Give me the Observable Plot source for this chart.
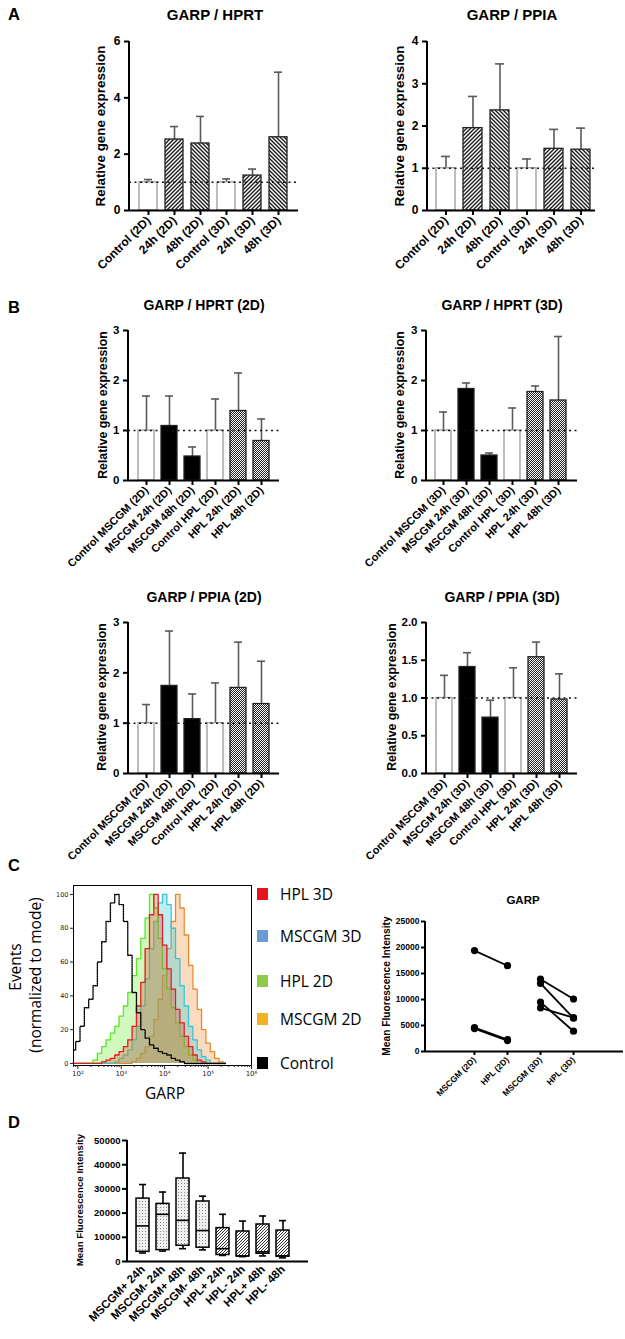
<!DOCTYPE html>
<html><head><meta charset="utf-8">
<script src="https://cdn.jsdelivr.net/npm/d3@7"></script>
<script src="https://cdn.jsdelivr.net/npm/@observablehq/plot@0.6"></script>
<style>
body{margin:0;background:#fff;}
#root{position:relative;width:625px;height:1339px;overflow:hidden;background:#fff;}
.plot{position:absolute;}
.plot svg{overflow:visible;max-width:none;}
</style></head>
<body>
<svg width="0" height="0" style="position:absolute">
<defs>
<pattern id="hatchR" patternUnits="userSpaceOnUse" width="4" height="4">
<rect width="4" height="4" fill="#fff"/>
<path d="M-1,1 l2,-2 M0,4 l4,-4 M3,5 l2,-2" stroke="#1a1a1a" stroke-width="1.4"/>
</pattern>
<pattern id="hatchL" patternUnits="userSpaceOnUse" width="4" height="4">
<rect width="4" height="4" fill="#fff"/>
<path d="M-1,3 l2,2 M0,0 l4,4 M3,-1 l2,2" stroke="#1a1a1a" stroke-width="1.4"/>
</pattern>
<pattern id="checker" patternUnits="userSpaceOnUse" width="2" height="2">
<rect width="2" height="2" fill="#fff"/>
<rect x="0" y="0" width="1" height="1" fill="#222"/>
<rect x="1" y="1" width="1" height="1" fill="#222"/>
</pattern>
<pattern id="dots" patternUnits="userSpaceOnUse" width="3" height="3">
<rect width="3" height="3" fill="#f0f0f0"/>
<rect x="1" y="1" width="1" height="1" fill="#8a8a8a"/>
</pattern>
<pattern id="hatchD" patternUnits="userSpaceOnUse" width="3" height="3">
<rect width="3" height="3" fill="#fff"/>
<path d="M-1,1 l2,-2 M0,3 l3,-3 M2,4 l2,-2" stroke="#333" stroke-width="1"/>
</pattern>
</defs>
</svg>
<div id="root"></div>
<script>
// ---------- DATA ----------
const catsA = ["Control (2D)", "24h (2D)", "48h (2D)", "Control (3D)", "24h (3D)", "48h (3D)"];
const hprtA = [1.0, 2.52, 2.38, 1.0, 1.24, 2.6];
const hprtAErr = [1.1, 2.98, 3.34, 1.12, 1.47, 4.91];
const ppiaA = [1.0, 1.95, 2.37, 1.0, 1.46, 1.44];
const ppiaAErr = [1.28, 2.7, 3.47, 1.22, 1.92, 1.95];

const catsB2D = ["Control MSCGM (2D)", "MSCGM 24h (2D)", "MSCGM 48h (2D)", "Control HPL (2D)", "HPL 24h (2D)", "HPL 48h (2D)"];
const catsB3D = ["Control MSCGM (3D)", "MSCGM 24h (3D)", "MSCGM 48h (3D)", "Control HPL (3D)", "HPL 24h (3D)", "HPL 48h (3D)"];
const hprt2D = [1.0, 1.09, 0.48, 1.0, 1.39, 0.79];
const hprt2DErr = [1.69, 1.69, 0.67, 1.63, 2.15, 1.23];
const hprt3D = [1.0, 1.83, 0.5, 1.0, 1.77, 1.6];
const hprt3DErr = [1.37, 1.95, 0.55, 1.45, 1.89, 2.88];
const ppia2D = [1.0, 1.74, 1.08, 1.0, 1.7, 1.38];
const ppia2DErr = [1.37, 2.83, 1.58, 1.8, 2.61, 2.23];
const ppia3D = [1.0, 1.41, 0.74, 1.0, 1.54, 0.98];
const ppia3DErr = [1.3, 1.6, 0.97, 1.4, 1.74, 1.32];

// flow cytometry histogram (x = log10 GARP, y = % of mode)
const binLog = [1.9,2.0,2.1,2.2,2.3,2.4,2.5,2.6,2.7,2.8,2.9,3.0,3.1,3.2,3.3,3.4,3.5,3.6,3.7,3.8,3.9,4.0,4.1,4.2,4.3,4.4,4.5,4.6,4.7,4.8,4.9,5.0,5.1,5.2,5.3,5.4];
const histControl = [8,13,22,33,38,46,60,72,84,95,100,94,84,64,42,30,20,15,11,9,7,6,5,3,2,1,0,0,0,0,0,0,0,0,0,0];
const histHPL2D   = [0,0,0,0,0,2,6,10,14,18,22,28,34,42,52,62,74,86,100,92,74,56,44,33,24,16,10,5,2,0,0,0,0,0,0,0];
const histHPL3D   = [0,0,0,0,0,0,0,1,2,3,5,7,10,14,22,34,48,68,88,100,88,70,56,44,32,24,16,10,5,2,1,0,0,0,0,0];
const histMSCGM3D = [0,0,0,0,0,0,0,0,0,0,1,3,5,8,14,22,34,50,68,84,95,100,94,80,62,46,34,22,14,8,4,2,0,0,0,0];
const histMSCGM2D = [0,0,0,0,0,0,0,0,0,0,0,0,0,0,1,3,6,10,16,26,38,52,68,84,100,92,76,58,44,32,20,12,7,3,1,0];
const legendNames = ["HPL 3D", "MSCGM 3D", "HPL 2D", "MSCGM 2D", "Control"];

const catsC = ["MSCGM (2D)", "HPL (2D)", "MSCGM (3D)", "HPL (3D)"];
const mfiMSCGM2D = [19400, 4600, 4400];
const mfiHPL2D = [16500, 2300, 2100];
const mfiMSCGM3D = [13900, 13100, 9500, 8400];
const mfiHPL3D = [10100, 6400, 3900, 6500];

const catsD = ["MSCGM+ 24h", "MSCGM- 24h", "MSCGM+ 48h", "MSCGM- 48h", "HPL+ 24h", "HPL- 24h", "HPL+ 48h", "HPL- 48h"];
const dMin = [3500, 4300, 5300, 4800, 2500, 2000, 2300, 1500];
const dQ1  = [4000, 4700, 6500, 5700, 2700, 2100, 3200, 2000];
const dMed = [14700, 19500, 17000, 12800, 5300, 2300, 4000, 2300];
const dQ3  = [26000, 23800, 34300, 24800, 13800, 12400, 15300, 12800];
const dMax = [31800, 28700, 44800, 27000, 19500, 16700, 18800, 16900];

// ---------- HELPERS ----------
const FONT = "'Liberation Sans', Arial, Helvetica, sans-serif";
const root = document.getElementById("root");
const plain = d => String(d);
function place(svg, left, top, w, h) {
  const d = document.createElement("div");
  d.className = "plot";
  d.style.left = left + "px"; d.style.top = top + "px";
  d.style.width = w + "px"; d.style.height = h + "px";
  d.appendChild(svg); root.appendChild(d);
}
function yLine(svg, ml, mt, H, mb) {
  d3.select(svg).append("line").attr("x1", ml).attr("x2", ml).attr("y1", mt).attr("y2", H - mb)
    .attr("stroke", "#000").attr("stroke-width", 2);
}
function fillA(c) { return c.startsWith("Control") ? "#fff" : c.startsWith("24h") ? "url(#hatchR)" : "url(#hatchL)"; }
function fillB(c) { return c.startsWith("Control") ? "#fff" : c.startsWith("MSCGM") ? "#000" : "url(#checker)"; }
function strokeAB(c) { return c.startsWith("Control") ? "#9a9a9a" : "#222"; }

function barChart(o) {
  const rows = o.cats.map((c, i) => ({c, v: o.vals[i], e: o.errs[i], f: o.fill(c), s: strokeAB(c)}));
  const n = o.cats.length, step = (o.c1 - o.c0) / (n - 1);
  const W = o.w, H = o.h;
  const ml = o.fx0 - o.left, mr = o.left + W - o.fx1, mt = o.fy0 - o.top, mb = o.top + H - o.fy1;
  const svg = Plot.plot({
    width: W, height: H, marginLeft: ml, marginRight: mr, marginTop: mt, marginBottom: mb,
    style: {fontFamily: FONT, fontWeight: "bold", fontSize: o.xfs + "px", overflow: "visible", background: "transparent", color: "#000"},
    x: {type: "band", domain: o.cats, range: [o.c0 - 0.35 * step - o.left, o.c1 + 0.35 * step - o.left], paddingInner: 0.3, paddingOuter: 0, align: 0.5, axis: null},
    y: {domain: o.yDomain, axis: null},
    color: {type: "identity"},
    marks: [
      Plot.ruleX(rows, {x: "c", y1: "v", y2: "e", stroke: "#5a5a5a", strokeWidth: 1.6}),
      Plot.tickY(rows, {x: "c", y: "e", stroke: "#5a5a5a", strokeWidth: 1.6, insetLeft: o.cap, insetRight: o.cap}),
      Plot.barY(rows, {x: "c", y: "v", fill: "f", stroke: "s", strokeWidth: 1.3}),
      Plot.ruleY([1], {stroke: "#111", strokeWidth: 1.5, strokeDasharray: "2,3.5"}),
      Plot.ruleY([0], {stroke: "#000", strokeWidth: 2}),
      Plot.axisY({ticks: o.yTicks, tickFormat: o.yFmt || plain, tickSize: 5, strokeWidth: 2, fontSize: o.yfs, label: null}),
      Plot.axisX({tickRotate: -45, tickSize: 5, strokeWidth: 2, fontSize: o.xfs, label: null, tickPadding: 3})
    ]
  });
  yLine(svg, ml, mt, H, mb);
  place(svg, o.left, o.top, W, H);
}

// ---------- PANEL A ----------
barChart({cats: catsA, vals: hprtA, errs: hprtAErr, fill: fillA, left: 0, top: 25, w: 310, h: 245,
  fx0: 129, fx1: 298, fy0: 41, fy1: 210, c0: 146, c1: 280, yDomain: [0, 6], yTicks: [0, 2, 4, 6], xfs: 12, yfs: 12, cap: 5});
barChart({cats: catsA, vals: ppiaA, errs: ppiaAErr, fill: fillA, left: 310, top: 25, w: 315, h: 245,
  fx0: 427, fx1: 595, fy0: 41, fy1: 210, c0: 443, c1: 583, yDomain: [0, 4], yTicks: [0, 1, 2, 3, 4], xfs: 12, yfs: 12, cap: 5});

// ---------- PANEL B ----------
barChart({cats: catsB2D, vals: hprt2D, errs: hprt2DErr, fill: fillB, left: 0, top: 315, w: 310, h: 225,
  fx0: 128, fx1: 279, fy0: 330, fy1: 480, c0: 144, c1: 263, yDomain: [0, 3], yTicks: [0, 1, 2, 3], xfs: 11, yfs: 11.5, cap: 4});
barChart({cats: catsB3D, vals: hprt3D, errs: hprt3DErr, fill: fillB, left: 310, top: 315, w: 315, h: 225,
  fx0: 426, fx1: 577, fy0: 330, fy1: 480, c0: 442, c1: 560, yDomain: [0, 3], yTicks: [0, 1, 2, 3], xfs: 11, yfs: 11.5, cap: 4});
barChart({cats: catsB2D, vals: ppia2D, errs: ppia2DErr, fill: fillB, left: 0, top: 607, w: 310, h: 240,
  fx0: 128, fx1: 279, fy0: 622, fy1: 773, c0: 144, c1: 263, yDomain: [0, 3], yTicks: [0, 1, 2, 3], xfs: 11, yfs: 11.5, cap: 4});
barChart({cats: catsB3D, vals: ppia3D, errs: ppia3DErr, fill: fillB, left: 310, top: 607, w: 315, h: 240,
  fx0: 426, fx1: 577, fy0: 622, fy1: 773, c0: 442, c1: 561, yDomain: [0, 2], yTicks: [0, 0.5, 1, 1.5, 2], yFmt: d3.format(".1f"), xfs: 11, yfs: 11.5, cap: 4});

// ---------- PANEL C: histogram ----------
(function () {
  const rows = (arr) => binLog.map((x, i) => ({x, y: arr[i]}));
  const sup = {2: "²", 3: "³", 4: "⁴", 5: "⁵", 6: "⁶"};
  const minor = [];
  for (let n = 1; n < 6; n++) for (let k = 2; k < 10; k++) { const v = n + Math.log10(k); if (v > 1.9 && v < 6.0) minor.push(v); }
  const series = [
    {d: histMSCGM2D, fill: "#f5b070", op: 0.45, stroke: "#e58a2c"},
    {d: histMSCGM3D, fill: "#4fd0de", op: 0.38, stroke: "#35c6d6"},
    {d: histHPL2D, fill: "#86ee52", op: 0.38, stroke: "#5fe52e"},
    {d: histHPL3D, fill: "#e83030", op: 0.28, stroke: "#e41e24"}
  ];
  const marks = [];
  for (const s of series) {
    marks.push(Plot.areaY(rows(s.d), {x: "x", y: "y", curve: "step", fill: s.fill, fillOpacity: s.op}));
    marks.push(Plot.lineY(rows(s.d), {x: "x", y: "y", curve: "step", stroke: s.stroke, strokeWidth: 1.3}));
  }
  marks.push(Plot.lineY(rows(histControl), {x: "x", y: "y", curve: "step", stroke: "#000", strokeWidth: 1.4, strokeDasharray: "1,1.2"}));
  marks.push(Plot.frame({stroke: "#000", strokeWidth: 1}));
  marks.push(Plot.axisX({ticks: [2, 3, 4, 5, 6], tickFormat: d => "10" + sup[d], tickSize: 4, fontSize: 7, label: null, tickPadding: 2}));
  marks.push(Plot.axisX({ticks: minor, tickFormat: () => "", tickSize: 2, label: null}));
  marks.push(Plot.axisY({ticks: [0, 20, 40, 60, 80, 100], tickFormat: plain, tickSize: 3, fontSize: 6.5, label: null, tickPadding: 2}));
  const svg = Plot.plot({
    width: 260, height: 200, marginLeft: 73, marginRight: 9, marginTop: 5, marginBottom: 15,
    style: {fontFamily: "'DejaVu Sans', sans-serif", overflow: "visible", background: "transparent", color: "#222"},
    x: {domain: [1.9, 6.0], axis: null},
    y: {domain: [-1.2, 105.3], axis: null},
    marks
  });
  place(svg, 0, 880, 260, 200);
})();

// ---------- PANEL C: paired MFI ----------
(function () {
  const links = [];
  mfiMSCGM2D.forEach((v, i) => links.push({a: catsC[0], b: catsC[1], y1: v, y2: mfiHPL2D[i]}));
  mfiMSCGM3D.forEach((v, i) => links.push({a: catsC[2], b: catsC[3], y1: v, y2: mfiHPL3D[i]}));
  const pts = links.flatMap(l => [{x: l.a, y: l.y1}, {x: l.b, y: l.y2}]);
  const left = 360, top = 905, W = 265, H = 185;
  const ml = 425 - left, mr = left + W - 623, mt = 921 - top, mb = top + H - 1051;
  const svg = Plot.plot({
    width: W, height: H, marginLeft: ml, marginRight: mr, marginTop: mt, marginBottom: mb,
    style: {fontFamily: FONT, fontWeight: "bold", fontSize: "8.5px", overflow: "visible", background: "transparent", color: "#000"},
    x: {type: "point", domain: catsC, range: [456 - left, 591 - left], axis: null},
    y: {domain: [0, 25000], axis: null},
    marks: [
      Plot.ruleY([0], {stroke: "#000", strokeWidth: 2}),
      Plot.link(links, {x1: "a", x2: "b", y1: "y1", y2: "y2", stroke: "#000", strokeWidth: 1.8}),
      Plot.dot(pts, {x: "x", y: "y", r: 3.6, fill: "#000"}),
      Plot.axisY({ticks: [0, 5000, 10000, 15000, 20000, 25000], tickFormat: plain, tickSize: 4, strokeWidth: 2, fontSize: 8.5, label: null, tickPadding: 2}),
      Plot.axisX({tickRotate: -45, tickSize: 4, strokeWidth: 2, fontSize: 8.5, label: null, tickPadding: 3})
    ]
  });
  yLine(svg, ml, mt, H, mb);
  place(svg, left, top, W, H);
})();

// ---------- PANEL D ----------
(function () {
  const rows = catsD.map((c, i) => ({c, mn: dMin[i], q1: dQ1[i], md: dMed[i], q3: dQ3[i], mx: dMax[i],
    f: c.startsWith("HPL") ? "url(#hatchD)" : "url(#dots)"}));
  const left = 0, top = 1125, W = 330, H = 214;
  const ml = 127, mr = W - 308, mt = 1140 - top, mb = top + H - 1261;
  const step = 20;
  const svg = Plot.plot({
    width: W, height: H, marginLeft: ml, marginRight: mr, marginTop: mt, marginBottom: mb,
    style: {fontFamily: FONT, fontWeight: "bold", fontSize: "11px", overflow: "visible", background: "transparent", color: "#000"},
    x: {type: "band", domain: catsD, range: [142 - 0.325 * step, 282 + 0.325 * step], paddingInner: 0.35, paddingOuter: 0, axis: null},
    y: {domain: [0, 50000], axis: null},
    color: {type: "identity"},
    marks: [
      Plot.ruleX(rows, {x: "c", y1: "q3", y2: "mx", stroke: "#000", strokeWidth: 1.6}),
      Plot.ruleX(rows, {x: "c", y1: "mn", y2: "q1", stroke: "#000", strokeWidth: 1.6}),
      Plot.tickY(rows, {x: "c", y: "mx", stroke: "#000", strokeWidth: 1.6, insetLeft: 3, insetRight: 3}),
      Plot.tickY(rows, {x: "c", y: "mn", stroke: "#000", strokeWidth: 1.6, insetLeft: 3, insetRight: 3}),
      Plot.barY(rows, {x: "c", y1: "q1", y2: "q3", fill: "f", stroke: "#000", strokeWidth: 1.5}),
      Plot.tickY(rows, {x: "c", y: "md", stroke: "#000", strokeWidth: 1.6}),
      Plot.ruleY([0], {stroke: "#000", strokeWidth: 2}),
      Plot.axisY({ticks: [0, 10000, 20000, 30000, 40000, 50000], tickFormat: plain, tickSize: 5, strokeWidth: 2, fontSize: 9.5, label: null, tickPadding: 2}),
      Plot.axisX({tickRotate: -45, tickSize: 0, fontSize: 11.5, label: null, tickPadding: 6})
    ]
  });
  yLine(svg, ml, mt, H, mb);
  place(svg, left, top, W, H);
})();

// ---------- TEXT OVERLAY ----------
const ov = d3.select(root).append("svg").attr("width", 625).attr("height", 1339)
  .style("position", "absolute").style("left", "0px").style("top", "0px").style("pointer-events", "none");
function txt(x, y, s, size, weight, anchor, rot, fam) {
  const t = ov.append("text").attr("x", x).attr("y", y).text(s)
    .attr("font-family", fam || FONT).attr("font-size", size).attr("font-weight", weight)
    .attr("text-anchor", anchor || "start").attr("fill", "#000");
  if (rot) t.attr("transform", `rotate(${rot},${x},${y})`);
  return t;
}
// panel letters
txt(8, 20, "A", 16.5, "bold");
txt(8, 313, "B", 16.5, "bold");
txt(8, 871, "C", 16.5, "bold");
txt(8, 1128, "D", 16.5, "bold");
// titles
txt(215, 20, "GARP / HPRT", 15, "bold", "middle");
txt(512, 20, "GARP / PPIA", 15, "bold", "middle");
txt(204, 310, "GARP / HPRT (2D)", 14, "bold", "middle");
txt(502, 310, "GARP / HPRT (3D)", 14, "bold", "middle");
txt(204, 602, "GARP / PPIA (2D)", 14, "bold", "middle");
txt(502, 602, "GARP / PPIA (3D)", 14, "bold", "middle");
txt(523, 904, "GARP", 11.5, "bold", "middle");
// y labels
txt(105, 126, "Relative gene expression", 13.4, "bold", "middle", -90);
txt(404, 126, "Relative gene expression", 13.4, "bold", "middle", -90);
txt(107, 405, "Relative gene expression", 12.3, "bold", "middle", -90);
txt(404, 405, "Relative gene expression", 12.3, "bold", "middle", -90);
txt(106, 697, "Relative gene expression", 12.3, "bold", "middle", -90);
txt(396, 697, "Relative gene expression", 12.3, "bold", "middle", -90);
txt(390, 986, "Mean Fluorescence Intensity", 10.2, "bold", "middle", -90);
txt(83, 1200, "Mean Fluorescence Intensity", 9.7, "bold", "middle", -90);
// histogram labels
const OS = "'Open Sans', 'Noto Sans', sans-serif";
txt(21, 967, "Events", 15.5, "normal", "middle", -90, OS);
txt(41, 975, "(normalized to mode)", 15.5, "normal", "middle", -90, OS);
txt(165, 1099, "GARP", 15.5, "normal", "middle", 0, OS);
// legend
const legColors = ["#e3141c", "#6a9bd6", "#8fcb4b", "#f0b325", "#000"];
const legBase = [900, 942, 987, 1025, 1069];
legendNames.forEach((n, i) => {
  ov.append("rect").attr("x", 257).attr("y", legBase[i] - 12).attr("width", 11).attr("height", 12).attr("fill", legColors[i]);
  txt(280, legBase[i], n, 15.5, "normal", "start", 0, OS);
});
</script>
</body></html>
